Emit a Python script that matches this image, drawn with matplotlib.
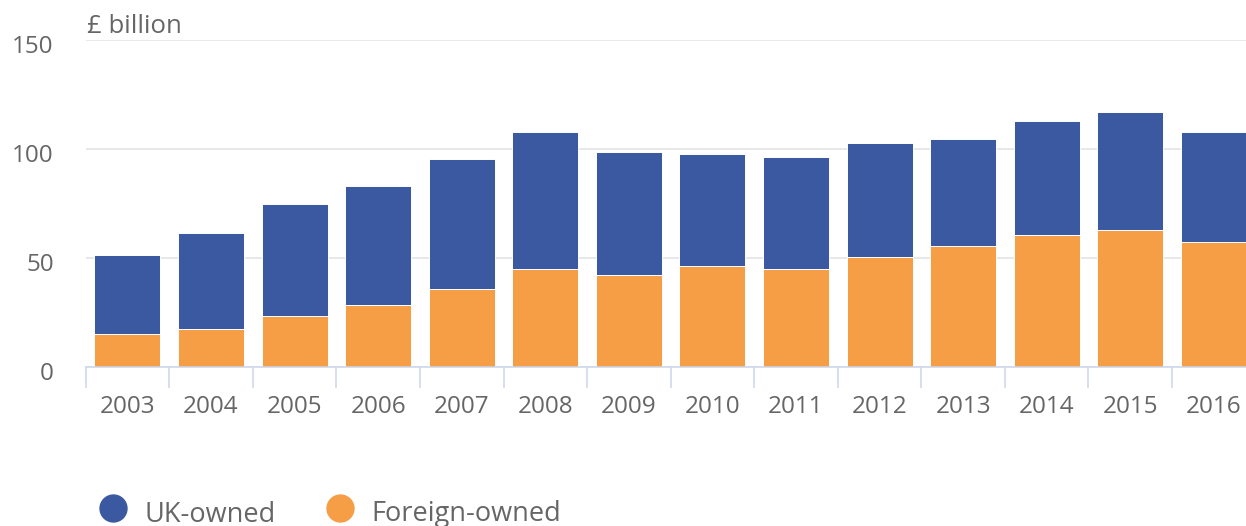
import matplotlib
matplotlib.use("Agg")
import matplotlib.pyplot as plt
from matplotlib.lines import Line2D
from matplotlib.transforms import ScaledTranslation
import numpy as np

years = ["2003", "2004", "2005", "2006", "2007", "2008", "2009",
         "2010", "2011", "2012", "2013", "2014", "2015", "2016"]
foreign_owned = [15.4, 17.6, 23.7, 28.7, 35.9, 45.1, 42.2,
                 46.4, 45.1, 50.4, 55.6, 60.6, 62.8, 57.6]
uk_owned = [36.1, 44.0, 51.3, 54.4, 59.6, 62.7, 56.3,
            51.2, 51.4, 52.3, 49.0, 52.4, 54.2, 50.2]
y_ticks = [0, 50, 100, 150]
y_label = "£ billion"
series_names = ["UK-owned", "Foreign-owned"]

BLUE = "#3b59a0"
ORANGE = "#f59e45"
TXT = "#666666"
AXC = "#ccd6eb"

plt.rcParams["font.family"] = ["Open Sans", "DejaVu Sans"]

W, H = 1246, 526
fig = plt.figure(figsize=(W / 100, H / 100), dpi=100)
left_px, right_px = 85.7, 1255.6
bottom_px, top_px = 367.4, 39.9
ax = fig.add_axes([left_px / W, 1 - bottom_px / H,
                   (right_px - left_px) / W, (bottom_px - top_px) / H])

x = np.arange(len(years))
bw = 0.79
ax.bar(x, foreign_owned, width=bw, color=ORANGE, edgecolor="white",
       linewidth=0.7, zorder=3)
ax.bar(x, uk_owned, width=bw, bottom=foreign_owned, color=BLUE,
       edgecolor="white", linewidth=0.7, zorder=3)

ax.set_xlim(-0.5, len(years) - 0.5)
ax.set_ylim(0, 150)

for s in ["top", "right", "left"]:
    ax.spines[s].set_visible(False)
ax.spines["bottom"].set_color(AXC)
ax.spines["bottom"].set_linewidth(1.1)
ax.spines["bottom"].set_zorder(4)

ax.set_yticks(y_ticks)
ax.set_yticklabels([str(v) for v in y_ticks])
ax.tick_params(axis="y", length=0, pad=23, labelsize=17.5, labelcolor=TXT)
off = ScaledTranslation(0, -4 / 100, fig.dpi_scale_trans)
for lab in ax.get_yticklabels():
    lab.set_transform(lab.get_transform() + off)
ax.grid(axis="y", color="#e6e6e6", linewidth=1.3, zorder=0)

ax.set_xticks(np.arange(len(years) + 1) - 0.5)
ax.set_xticklabels([])
ax.tick_params(axis="x", which="major", length=15, width=1.1, color=AXC,
               direction="out")
ax.set_xticks(x, minor=True)
ax.set_xticklabels(years, minor=True)
ax.tick_params(axis="x", which="minor", length=0, pad=19.8, labelsize=17.5,
               labelcolor=TXT)

fig.text(87 / W, 1 - 33 / H, y_label, fontsize=18.5, color=TXT,
         ha="left", va="baseline")

handles = [Line2D([], [], marker="o", linestyle="none", markersize=19.4,
                  markerfacecolor=c, markeredgecolor=c)
           for c in (BLUE, ORANGE)]
leg = fig.legend(handles, series_names, loc="center left",
                 bbox_to_anchor=(99.5 / W, (H - 510) / H), ncol=2,
                 frameon=False, fontsize=19.5, labelcolor=TXT,
                 handlelength=1.0, handletextpad=0.65, columnspacing=1.9,
                 borderpad=0, borderaxespad=0)
for t in leg.get_texts():
    t.set_position((0, -4.5))

fig.savefig("out.png", dpi=100)
